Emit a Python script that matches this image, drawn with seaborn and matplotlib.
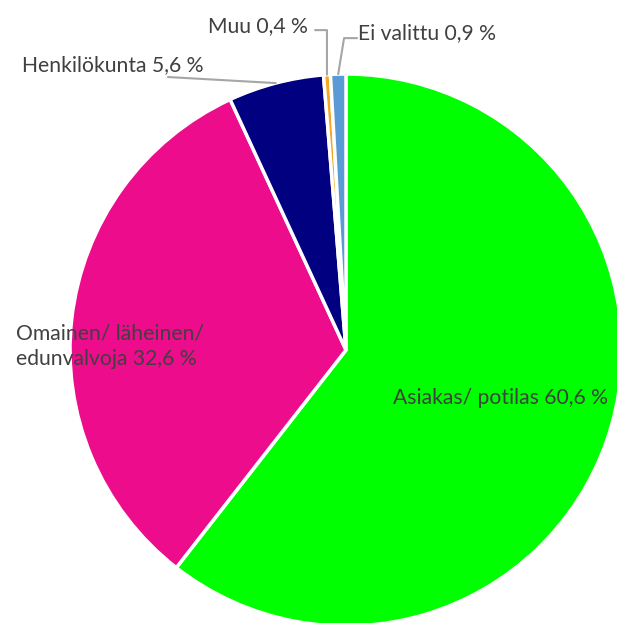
import numpy as np
import seaborn as sns
import matplotlib.pyplot as plt

# Data
labels = ['Asiakas/ potilas', 'Omainen/ läheinen/\nedunvalvoja', 'Henkilökunta', 'Muu', 'Ei valittu']
values = [60.6, 32.6, 5.6, 0.4, 0.9]
value_texts = ['60,6 %', '32,6 %', '5,6 %', '0,4 %', '0,9 %']
colors = ['#00FF00', '#EC0C8C', '#000080', '#F5A623', '#5B9BD5']

sns.set_theme(style='white')
plt.rcParams['font.family'] = ['Lato', 'DejaVu Sans']

fig = plt.figure(figsize=(6.17, 6.23), dpi=100)
# place the pie so its centre sits at about (346, 350) px, radius ~276 px
cx, cy, r = 346, 350, 276
ax = fig.add_axes([(cx - r) / 617, (623 - cy - r) / 623, 2 * r / 617, 2 * r / 623])

wedges, _ = ax.pie(values, colors=colors, startangle=90, counterclock=False, radius=1,
                   wedgeprops=dict(edgecolor='white', linewidth=2.5))
ax.set_xlim(-1, 1)
ax.set_ylim(-1, 1)
ax.set_aspect('equal')
ax.axis('off')

text_color = '#404040'
fs = 15.2
line_color = '#A6A6A6'


def mid_point(w):
    ang = np.deg2rad((w.theta1 + w.theta2) / 2)
    return np.cos(ang), np.sin(ang)


# Asiakas label inside the slice
ax.text(0.17, -0.174, f'{labels[0]} {value_texts[0]}', ha='left', va='center',
        fontsize=fs, color=text_color, clip_on=False)

# Omainen label over the left edge
ax.text(-1.196, 0.014, f'{labels[1]} {value_texts[1]}', ha='left', va='center',
        fontsize=fs, color=text_color, clip_on=False, linespacing=1.3)

# Henkilökunta with leader line
mx, my = mid_point(wedges[2])
ax.text(-1.174, 1.033, f'{labels[2]} {value_texts[2]}', ha='left', va='center',
        fontsize=fs, color=text_color, clip_on=False)
ax.plot([-0.645, mx], [0.989, my], color=line_color, lw=1.5, clip_on=False)

# Muu with elbow leader
mx, my = mid_point(wedges[3])
ax.text(-0.5, 1.174, f'{labels[3]} {value_texts[3]}', ha='left', va='center',
        fontsize=fs, color=text_color, clip_on=False)
ax.plot([-0.112, -0.069, mx], [1.159, 1.159, my], color=line_color, lw=1.5, clip_on=False)

# Ei valittu with elbow leader
mx, my = mid_point(wedges[4])
ax.text(0.043, 1.149, f'{labels[4]} {value_texts[4]}', ha='left', va='center',
        fontsize=fs, color=text_color, clip_on=False)
ax.plot([0.040, -0.007, mx], [1.130, 1.130, my], color=line_color, lw=1.5, clip_on=False)

fig.savefig('out.png', dpi=100, facecolor='white')
